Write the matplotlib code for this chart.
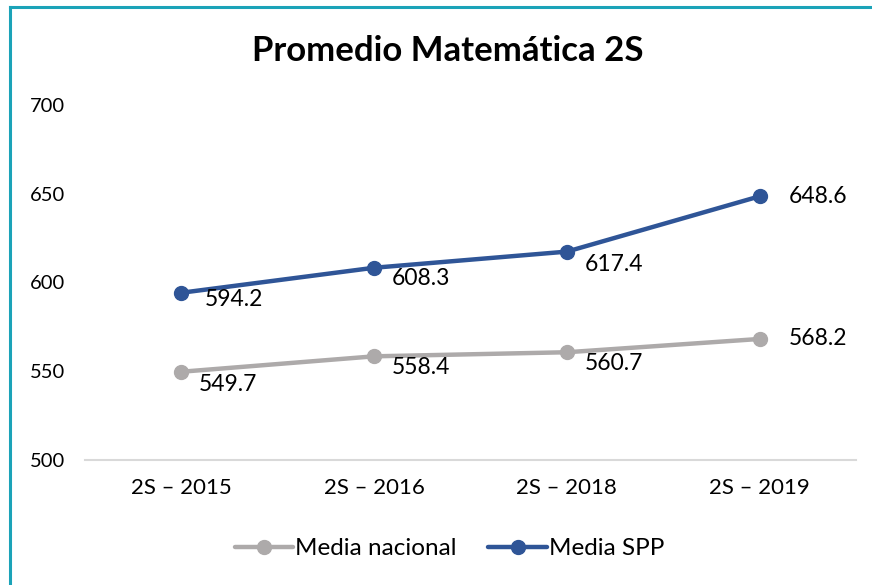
import matplotlib.pyplot as plt
from matplotlib.lines import Line2D

# datos
categorias = ["2S – 2015", "2S – 2016", "2S – 2018", "2S – 2019"]
media_nacional = [549.7, 558.4, 560.7, 568.2]
media_spp = [594.2, 608.3, 617.4, 648.6]
y_ticks = [500, 550, 600, 650, 700]

plt.rcParams['font.family'] = ['Lato', 'DejaVu Sans']

fig = plt.figure(figsize=(8.72, 5.85), dpi=100)
ax = fig.add_axes([0.097, 0.2137, 0.885, 0.6068])

x = range(len(categorias))
gris = '#ADAAAA'
azul = '#2F5597'
ax.plot(x, media_nacional, color=gris, lw=3.2, marker='o', ms=10,
        label='Media nacional', solid_capstyle='round')
ax.plot(x, media_spp, color=azul, lw=3.2, marker='o', ms=10,
        label='Media SPP', solid_capstyle='round')

# etiquetas de datos (derecha / abajo como en Excel)
offs_nac = [(13, -9), (13, -8), (13, -8), (21, 0)]
offs_spp = [(17, -5), (13, -8), (13, -9), (21, 0)]
for i, v in enumerate(media_nacional):
    ax.annotate(f"{v:.1f}", (i, v), xytext=offs_nac[i], textcoords='offset points',
                ha='left', va='center', fontsize=16.5, color='black')
for i, v in enumerate(media_spp):
    ax.annotate(f"{v:.1f}", (i, v), xytext=offs_spp[i], textcoords='offset points',
                ha='left', va='center', fontsize=16.5, color='black')

ax.set_xlim(-0.5, 3.5)
ax.set_ylim(500, 700)
ax.set_yticks(y_ticks)
ax.set_xticks(list(x))
ax.set_xticklabels(categorias)
ax.tick_params(axis='x', length=0, labelsize=16, pad=13)
ax.tick_params(axis='y', length=0, labelsize=14.5, pad=14)
for s in ['top', 'right', 'left']:
    ax.spines[s].set_visible(False)
ax.spines['bottom'].set_color('#D9D9D9')
ax.spines['bottom'].set_linewidth(1.5)

fig.text(0.513, 0.912, "Promedio Matemática 2S", ha='center', va='center',
         fontsize=25, fontweight='bold')

ax.legend(loc='center', bbox_to_anchor=(0.473, -0.25), ncol=2, frameon=False,
          fontsize=17.5, handlelength=2.4, handletextpad=0.1, columnspacing=1.3)

# borde del gráfico (solo arriba e izquierda visibles)
fig.add_artist(Line2D([0.0115, 0.0115], [0, 0.988], transform=fig.transFigure,
                      color='#1BA3B8', lw=2.2))
fig.add_artist(Line2D([0.0115, 1.0], [0.988, 0.988], transform=fig.transFigure,
                      color='#1BA3B8', lw=2.2))

plt.savefig("out.png", dpi=100)
